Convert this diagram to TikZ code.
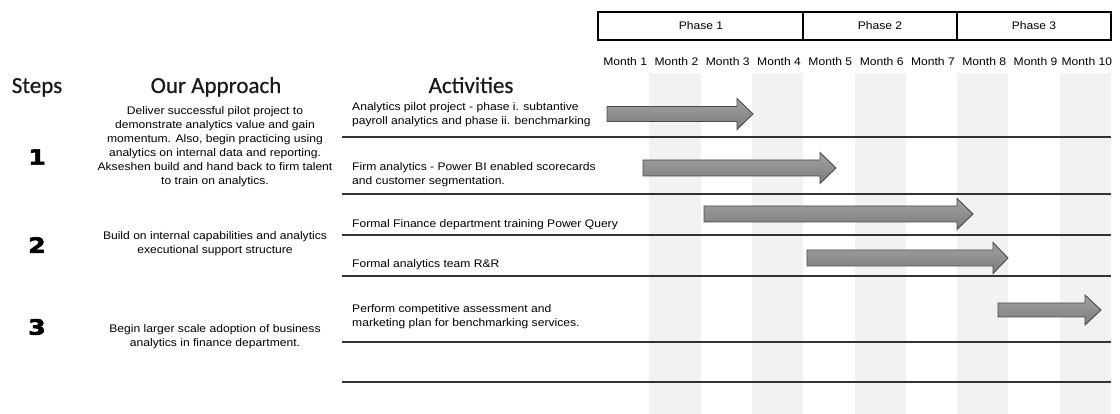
\documentclass[tikz,border=0pt]{standalone}
\usepackage{fontspec}
\setmainfont{Liberation Sans}
\newfontfamily\uifont{Liberation Sans}[FakeStretch=1.1]
\newfontfamily\headfont{Carlito}[FakeBold=0.6]
\newfontfamily\numfont{DejaVu Sans Bold}[FakeBold=3,FakeStretch=1.2]
\definecolor{colshade}{HTML}{F2F2F2}
\definecolor{rulecol}{HTML}{333333}
\definecolor{arrtop}{HTML}{A2A2A2}
\definecolor{arrbot}{HTML}{7C7C7C}
\definecolor{arredge}{HTML}{4A4A4A}
\definecolor{headcol}{HTML}{1A1A1A}
\newcommand{\garrow}[6]{%
  \draw[barrow] (#1,{#3-#4}) -- ({#2-#6},{#3-#4}) -- ({#2-#6},{#3-#5}) -- (#2,#3)
    -- ({#2-#6},{#3+#5}) -- ({#2-#6},{#3+#4}) -- (#1,{#3+#4}) -- cycle;}
\begin{document}
\begin{tikzpicture}[x=1pt,y=-1pt,
  small/.style={inner sep=0pt, font=\uifont\fontsize{11}{14}\selectfont, text=black},
  head/.style={inner sep=0pt, font=\headfont\bfseries\fontsize{23}{26}\selectfont, text=headcol, anchor=base},
  num/.style={inner sep=0pt, font=\numfont\bfseries\fontsize{21}{24}\selectfont, text=black},
  rowline/.style={draw=rulecol, line width=1.1pt},
  barrow/.style={draw=arredge, line width=0.9pt, top color=arrtop, bottom color=arrbot, line join=miter},
  phasebox/.style={draw=black, line width=1.6pt}]
\useasboundingbox (0,0) rectangle (1120,414);
% shaded month columns
\foreach \i in {1,3,5,7,9}
  \fill[colshade] ({598+\i*51.3},73) rectangle ++(51.3,341);
% phase header
\draw[phasebox] (598,12) rectangle (1111,40);
\draw[phasebox] (803.2,12) -- (803.2,40);
\draw[phasebox] (957.1,12) -- (957.1,40);
\node[small] (ph1) at (701,26) {Phase 1};
\node[small] (ph2) at (880,26) {Phase 2};
\node[small] (ph3) at (1034,26) {Phase 3};
% month labels
\foreach \i in {1,...,10}
  \node[small] (m\i) at ({598+51.3*(\i-0.5)+1.5},62) {Month \i};
% column headings
\node[head] (steps) at (37,93) {\mdseries Steps};
\node[head] (appr) at (216,93) {\mdseries Our Approach};
\node[head] (acts) at (471,93) {\mdseries Activities};
% row lines
\foreach \y in {137,194,235,276,342,382}
  \draw[rowline] (342,\y) -- (1111,\y);
% step numbers
\node[num] (s1) at (37,157) {1};
\node[num] (s2) at (37,245) {2};
\node[num] (s3) at (37,327) {3};
% approach texts
\node[small, align=center] (a1) at (215,147) {Deliver successful pilot project to\\demonstrate analytics value and gain\\momentum. Also, begin practicing using\\analytics on internal data and reporting.\\Akseshen build and hand back to firm talent\\to train on analytics.};
\node[small, align=center] (a2) at (215,244) {Build on internal capabilities and analytics\\executional support structure};
\node[small, align=center] (a3) at (215,337) {Begin larger scale adoption of business\\analytics in finance department.};
% activities
\node[small, align=left, anchor=west] (t1) at (352,115) {Analytics pilot project - phase i. subtantive\\payroll analytics and phase ii. benchmarking};
\node[small, align=left, anchor=west] (t2) at (352,175) {Firm analytics - Power BI enabled scorecards\\and customer segmentation.};
\node[small, anchor=west] (t3) at (352,225) {Formal Finance department training Power Query};
\node[small, anchor=west] (t4) at (352,265) {Formal analytics team R\&R};
\node[small, align=left, anchor=west] (t5) at (352,317) {Perform competitive assessment and\\marketing plan for benchmarking services.};
% gantt arrows
\garrow{607}{753}{114}{7.5}{15.5}{16}
\garrow{643}{836}{168}{8}{15.5}{16}
\garrow{704}{973}{214}{8}{15.5}{16}
\garrow{807}{1008}{258}{8}{15.5}{15}
\garrow{998}{1101}{310}{7}{15}{16}
\end{tikzpicture}
\end{document}
